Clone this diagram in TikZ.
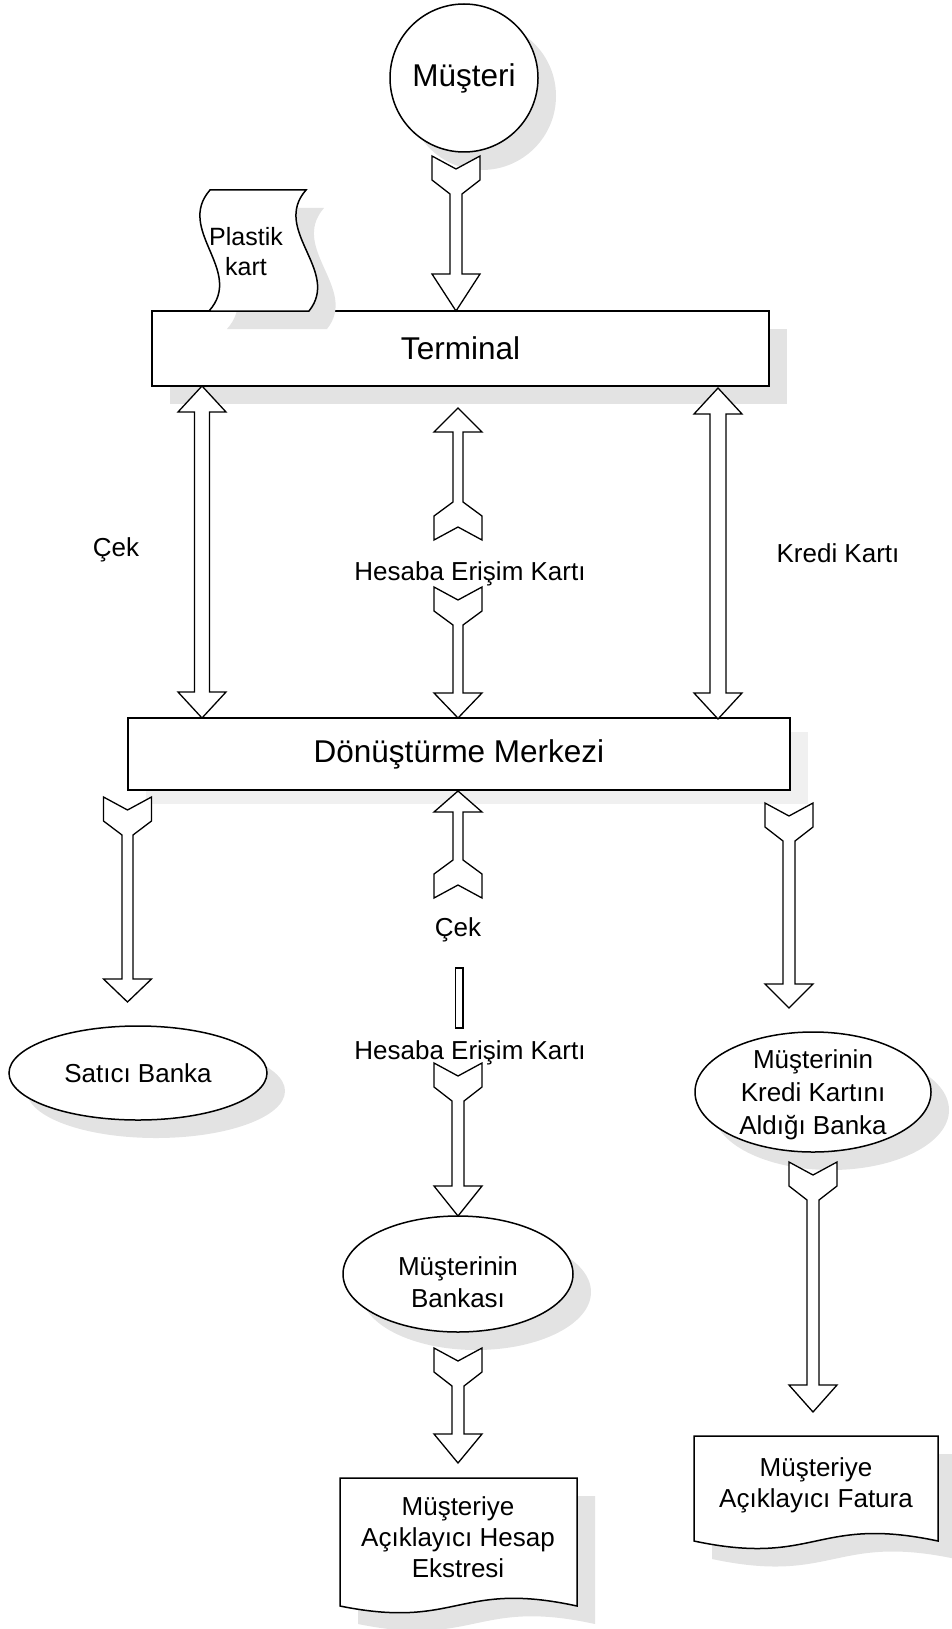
\documentclass[tikz,border=0pt]{standalone}
\usepackage{fontspec}
\setmainfont{Liberation Sans}
\usetikzlibrary{shapes.geometric,shadows}

\tikzset{
  outline/.style={draw=black, line width=1.5pt, fill=white},
  softshadow/.style={drop shadow={shadow xshift=18pt, shadow yshift=-18pt, fill=black!11, opacity=1}},
  faintshadow/.style={drop shadow={shadow xshift=18pt, shadow yshift=-14pt, fill=black!6, opacity=1}},
  blockarrow/.style={draw=black, line width=1.3pt, fill=white, line join=miter},
  boxlabel/.style={font=\fontsize{31.5}{37}\selectfont},
  nodelabel/.style={font=\fontsize{26}{32}\selectfont, align=center},
  doclabel/.style={font=\fontsize{26}{31}\selectfont, align=center},
  edgelabel/.style={font=\fontsize{26}{31}\selectfont},
}

% block arrow with a chevron tail: x, tail y, tip y, head length, shaft half width, direction (1 down, -1 up)
\newcommand{\chevronarrow}[6]{%
  \draw[blockarrow]
    ({#1-24},{#2}) -- ({#1},{#2+(#6)*13}) -- ({#1+24},{#2}) -- ({#1+24},{#2+(#6)*24})
    -- ({#1+#5},{#2+(#6)*38}) -- ({#1+#5},{#3-(#6)*(#4)}) -- ({#1+24},{#3-(#6)*(#4)})
    -- ({#1},{#3}) -- ({#1-24},{#3-(#6)*(#4)}) -- ({#1-#5},{#3-(#6)*(#4)})
    -- ({#1-#5},{#2+(#6)*38}) -- ({#1-24},{#2+(#6)*24}) -- cycle;}

% two-headed block arrow: x, upper tip y, lower tip y, head length, shaft half width
\newcommand{\twowayarrow}[5]{%
  \draw[blockarrow]
    ({#1},{#2}) -- ({#1+24},{#2+#4}) -- ({#1+#5},{#2+#4}) -- ({#1+#5},{#3-#4})
    -- ({#1+24},{#3-#4}) -- ({#1},{#3}) -- ({#1-24},{#3-#4}) -- ({#1-#5},{#3-#4})
    -- ({#1-#5},{#2+#4}) -- ({#1-24},{#2+#4}) -- cycle;}

\begin{document}
\begin{tikzpicture}[x=1pt,y=-1pt]
\useasboundingbox (0,0) rectangle (952,1629);

% boxes, circle and ellipses
\node[outline, softshadow, minimum width=617pt, minimum height=75pt, inner sep=0pt, boxlabel]
  (terminal) at (460.5,348.5) {Terminal};
\node[outline, faintshadow, minimum width=662pt, minimum height=72pt, inner sep=0pt, boxlabel]
  (merkez) at (459,754) {Dönüştürme Merkezi};
\node[outline, softshadow, circle, minimum size=148pt, inner sep=0pt, boxlabel]
  (musteri) at (464,78) {Müşteri};
\node[outline, softshadow, ellipse, minimum width=258pt, minimum height=94pt, inner sep=0pt, nodelabel]
  (satici) at (138,1073) {Satıcı Banka};
\node[outline, softshadow, ellipse, minimum width=230pt, minimum height=116pt, inner sep=0pt]
  (bankasi) at (458,1274) {};
\node[nodelabel] (bankasitext) at (458,1282) {Müşterinin\\Bankası};
\node[outline, softshadow, ellipse, minimum width=236pt, minimum height=120pt, inner sep=0pt]
  (kredibanka) at (813,1092) {};
\node[font=\fontsize{26}{33}\selectfont, align=center]
  (kredibankatext) at (813,1095) {Müşterinin\\Kredi Kartını\\Aldığı Banka};

% documents with a wavy lower edge
\draw[outline, softshadow] (340,1478) -- (577,1478) -- (577,1606)
  .. controls (458,1580) and (458,1630) .. (340,1606) -- cycle;
\node[doclabel] (ekstre) at (458,1537) {Müşteriye\\Açıklayıcı Hesap\\Ekstresi};
\draw[outline, softshadow] (694,1436) -- (938,1436) -- (938,1541)
  .. controls (816,1515) and (816,1567) .. (694,1541) -- cycle;
\node[doclabel] (fatura) at (816,1485) {Müşteriye\\Açıklayıcı Fatura};

% punched card standing on the terminal
\draw[outline, softshadow] (210,190) -- (306,190) .. controls (271,230) and (341,271) .. (309,311)
  -- (209,311) .. controls (245,271) and (175,230) .. (210,190) -- cycle;
\node[align=center, font=\fontsize{25}{30}\selectfont] (plastik) at (246,252) {Plastik\\kart};

% flows
\chevronarrow{456}{156}{311}{37}{6}{1}
\twowayarrow{202}{386}{718}{26}{7.5}
\twowayarrow{718}{388}{719}{26}{8}
\chevronarrow{458}{540}{408}{24}{5}{-1}
\chevronarrow{458}{587}{718}{25}{5}{1}
\chevronarrow{127.5}{797}{1002}{23}{5.5}{1}
\chevronarrow{458}{898}{791}{21}{5}{-1}
\chevronarrow{789}{803}{1008}{24}{6}{1}
\chevronarrow{458}{1063}{1216}{30}{6}{1}
\chevronarrow{458}{1348}{1463}{29}{6}{1}
\chevronarrow{813}{1162}{1412}{27}{6}{1}
\draw[blockarrow, line width=1.2pt] (455.5,968) rectangle (463,1028);

% flow labels
\node[edgelabel] (cekleft) at (116,550) {Çek};
\node[edgelabel] (kredilabel) at (838,553) {Kredi Kartı};
\node[edgelabel] (hesaba1) at (470,574) {Hesaba Erişim Kartı};
\node[edgelabel] (cekmid) at (458,930) {Çek};
\node[edgelabel] (hesaba2) at (470,1053) {Hesaba Erişim Kartı};
\end{tikzpicture}
\end{document}
